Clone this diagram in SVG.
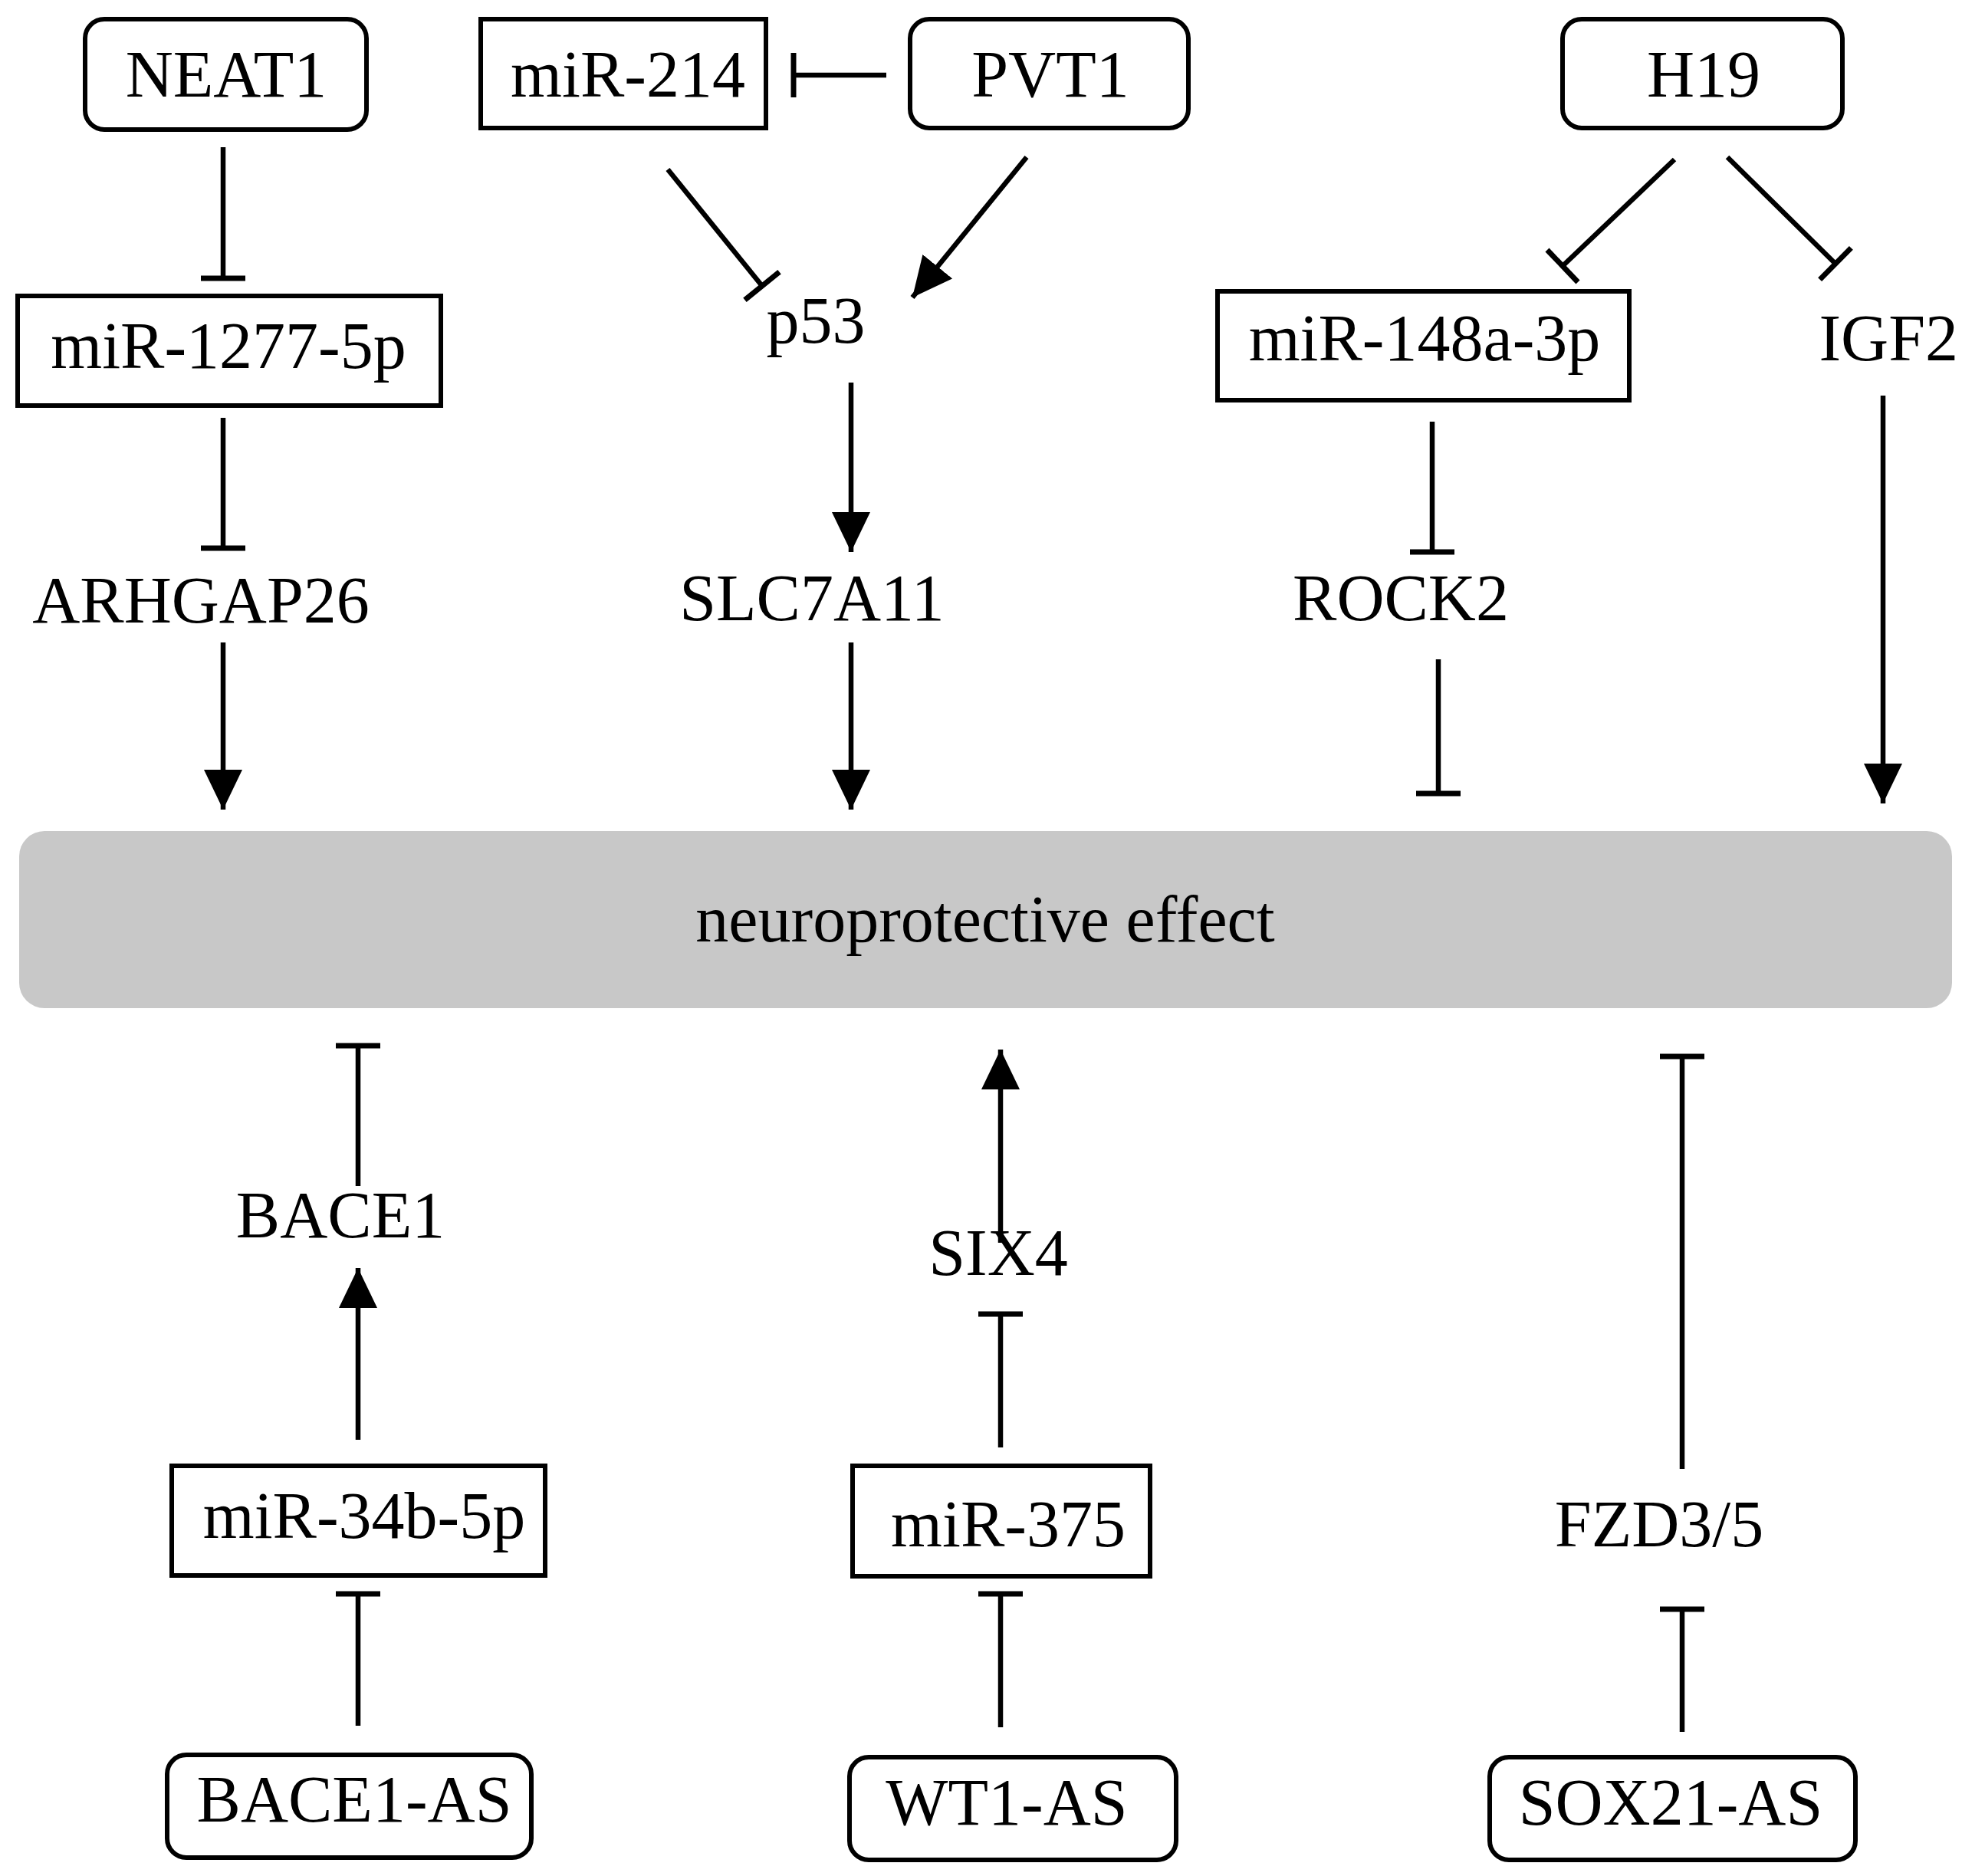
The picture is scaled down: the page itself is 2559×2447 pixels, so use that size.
<svg xmlns="http://www.w3.org/2000/svg" width="2559" height="2447" viewBox="0 0 2559 2447">
<style>
.b{fill:#fff;stroke:#000;stroke-width:6}
text{font-family:"Liberation Serif","DejaVu Serif",serif;font-size:86px;text-anchor:middle;fill:#000}
.c line{stroke:#000;stroke-width:6.5}
.a{marker-end:url(#arr)}
.t{marker-end:url(#bar)}
</style>
<defs>
<marker id="arr" markerUnits="userSpaceOnUse" markerWidth="54" markerHeight="52" refX="52" refY="25" orient="auto" viewBox="0 0 54 52"><path d="M0,0 L52,25 L0,50 z" fill="#000"/></marker>
<marker id="bar" markerUnits="userSpaceOnUse" markerWidth="10" markerHeight="62" refX="5" refY="31" orient="auto" viewBox="0 0 10 62"><path d="M5,2 L5,60" stroke="#000" stroke-width="7"/></marker>
</defs>
<rect width="2559" height="2447" fill="#fff"/>
<g id="effect"><rect x="25" y="1084" width="2521" height="231" rx="33" fill="#c8c8c8"/><text x="1285" y="1228">neuroprotective effect</text></g>
<g id="NEAT1"><rect class="b" x="111" y="25" width="367" height="144" rx="25"/><text x="295" y="126">NEAT1</text></g>
<g id="miR214"><rect class="b" x="627" y="25" width="372" height="142"/><text x="819" y="126">miR-214</text></g>
<g id="PVT1"><rect class="b" x="1187" y="25" width="363" height="142" rx="25"/><text x="1370" y="126">PVT1</text></g>
<g id="H19"><rect class="b" x="2038" y="25" width="365" height="142" rx="25"/><text x="2222" y="126">H19</text></g>
<g id="miR1277"><rect class="b" x="23" y="386" width="552" height="143"/><text x="298" y="480">miR-1277-5p</text></g>
<g id="p53"><text x="1064" y="447">p53</text></g>
<g id="miR148"><rect class="b" x="1588" y="380" width="537" height="142"/><text x="1858" y="470">miR-148a-3p</text></g>
<g id="IGF2"><text x="2554" y="470" style="text-anchor:end">IGF2</text></g>
<g id="ARHGAP26"><text x="262" y="812">ARHGAP26</text></g>
<g id="SLC7A11"><text x="1059" y="809">SLC7A11</text></g>
<g id="ROCK2"><text x="1827" y="809">ROCK2</text></g>
<g id="BACE1"><text x="444" y="1614">BACE1</text></g>
<g id="SIX4"><text x="1302" y="1663">SIX4</text></g>
<g id="FZD"><text x="2164" y="2017">FZD3/5</text></g>
<g id="miR34b"><rect class="b" x="224" y="1912" width="487" height="143"/><text x="475" y="2006">miR-34b-5p</text></g>
<g id="miR375"><rect class="b" x="1112" y="1912" width="388" height="144"/><text x="1315" y="2017">miR-375</text></g>
<g id="BACE1AS"><rect class="b" x="218" y="2289" width="475" height="134" rx="25"/><text x="462" y="2376">BACE1-AS</text></g>
<g id="WT1AS"><rect class="b" x="1108" y="2292" width="426" height="134" rx="25"/><text x="1313" y="2380">WT1-AS</text></g>
<g id="SOX21AS"><rect class="b" x="1943" y="2292" width="477" height="134" rx="25"/><text x="2179" y="2380">SOX21-AS</text></g>
<g class="c" id="connectors">
<line class="t" x1="291" y1="192" x2="291" y2="363"/>
<line class="t" x1="291" y1="545" x2="291" y2="715"/>
<line class="a" x1="291" y1="838" x2="291" y2="1056"/>
<line class="t" x1="1156" y1="98" x2="1035" y2="98"/>
<line class="t" x1="871" y1="221" x2="994" y2="373"/>
<line class="a" x1="1339" y1="205" x2="1190" y2="388"/>
<line class="a" x1="1110" y1="499" x2="1110" y2="720"/>
<line class="a" x1="1110" y1="838" x2="1110" y2="1056"/>
<line class="t" x1="2184" y1="208" x2="2038" y2="347"/>
<line class="t" x1="2253" y1="205" x2="2394" y2="344"/>
<line class="t" x1="1868" y1="550" x2="1868" y2="720"/>
<line class="t" x1="1876" y1="860" x2="1876" y2="1035"/>
<line class="a" x1="2456" y1="516" x2="2456" y2="1048"/>
<line class="t" x1="467" y1="1547" x2="467" y2="1364"/>
<line class="a" x1="467" y1="1878" x2="467" y2="1654"/>
<line class="t" x1="467" y1="2251" x2="467" y2="2079"/>
<line class="a" x1="1305" y1="1621" x2="1305" y2="1369"/>
<line class="t" x1="1305" y1="1888" x2="1305" y2="1714"/>
<line class="t" x1="1305" y1="2253" x2="1305" y2="2079"/>
<line class="t" x1="2194" y1="1916" x2="2194" y2="1378"/>
<line class="t" x1="2194" y1="2259" x2="2194" y2="2099"/>
</g>
</svg>
